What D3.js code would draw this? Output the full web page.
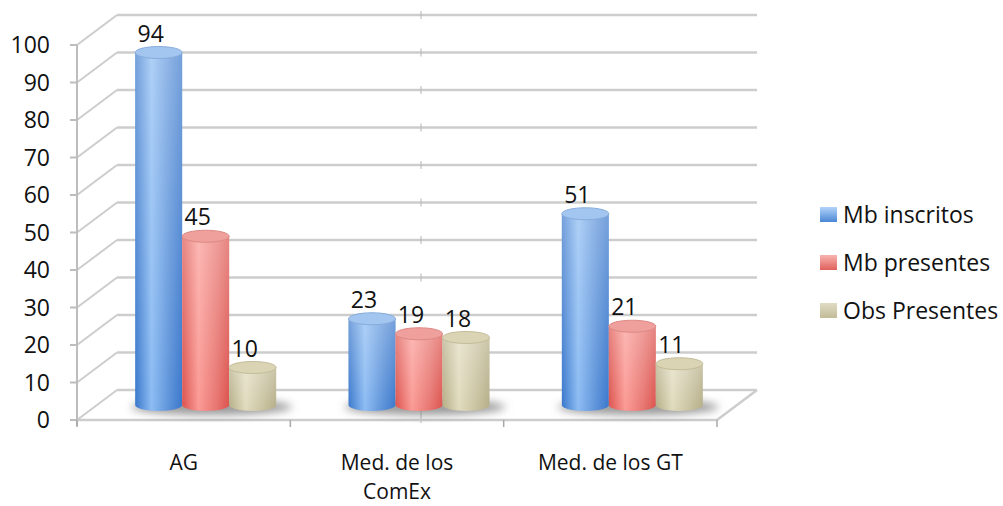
<!DOCTYPE html>
<html>
<head>
<meta charset="utf-8">
<script src="https://cdn.jsdelivr.net/npm/d3@7"></script>
<style>
  body { margin: 0; background: #fff; }
  text { font-family: "Open Sans", sans-serif; fill: #111; }
</style>
</head>
<body>
<svg id="chart" width="1003" height="506"></svg>
<script>
// data
var categories = ["AG", "Med. de los\nComEx", "Med. de los GT"];
var seriesNames = ["Mb inscritos", "Mb presentes", "Obs Presentes"];
var mbInscritos = [94, 23, 51];
var mbPresentes = [45, 19, 21];
var obsPresentes = [10, 18, 11];
var yTicks = [0, 10, 20, 30, 40, 50, 60, 70, 80, 90, 100];

var seriesValues = [mbInscritos, mbPresentes, obsPresentes];

// look of each series (left edge, highlight, right edge, top, top rim)
var looks = [
    { id: "b", edge: "#3a78cc", hi: "#8cbcf3", right: "#5a90d8", top: "#a3c6f0", rim: "#86acdc", l1: "#b3d4fa", l2: "#4a86d4" },
    { id: "r", edge: "#dc524d", hi: "#fb9a95", right: "#e7736e", top: "#f0a09c", rim: "#dc8884", l1: "#f8b4b0", l2: "#e0605b" },
    { id: "t", edge: "#b5ad86", hi: "#e0dbbd", right: "#c7c09d", top: "#dad4b5", rim: "#c3bc98", l1: "#e0dcc4", l2: "#c2bb98" }
];

var svg = d3.select("#chart");
var defs = svg.append("defs");

var depthX = 40, depthY = -30;
var fs = "23px";

var y = d3.scaleLinear().domain([0, 100]).range([420, 45]);
var x0 = d3.scaleBand().domain(categories).range([77, 717]);
var x1 = d3.scaleBand().domain(seriesNames).range([-70.5, 70.5]);

looks.forEach(function (lk) {
    var g = defs.append("linearGradient").attr("id", "body-" + lk.id)
        .attr("x1", 0).attr("x2", 1).attr("y1", 0).attr("y2", 0);
    g.append("stop").attr("offset", "0%").attr("stop-color", lk.edge);
    g.append("stop").attr("offset", "35%").attr("stop-color", lk.hi);
    g.append("stop").attr("offset", "75%").attr("stop-color", lk.right);
    g.append("stop").attr("offset", "100%").attr("stop-color", lk.edge);

    var lg = defs.append("linearGradient").attr("id", "leg-" + lk.id)
        .attr("x1", 0).attr("x2", 0).attr("y1", 0).attr("y2", 1);
    lg.append("stop").attr("offset", "0%").attr("stop-color", lk.l1);
    lg.append("stop").attr("offset", "100%").attr("stop-color", lk.l2);
});

var shade = defs.append("linearGradient").attr("id", "shade")
    .attr("x1", 0).attr("x2", 0).attr("y1", 0).attr("y2", 1);
shade.append("stop").attr("offset", "0%").attr("stop-color", "#fff").attr("stop-opacity", 0.3);
shade.append("stop").attr("offset", "100%").attr("stop-color", "#fff").attr("stop-opacity", 0);

defs.append("filter").attr("id", "blur").attr("x", "-50%").attr("y", "-50%").attr("width", "200%").attr("height", "200%")
    .append("feGaussianBlur").attr("stdDeviation", 4);

var gridColor = "#cdcdcd";

// back wall and side wall grid
var grid = svg.append("g");
grid.selectAll(".back").data(yTicks).enter().append("line")
    .attr("x1", 77 + depthX).attr("x2", 717 + depthX)
    .attr("y1", function (d) { return y(d) + depthY; })
    .attr("y2", function (d) { return y(d) + depthY; })
    .attr("stroke", gridColor).attr("stroke-width", 2.5);

grid.selectAll(".side").data(yTicks).enter().append("line")
    .attr("x1", 77).attr("x2", 77 + depthX)
    .attr("y1", function (d) { return y(d); })
    .attr("y2", function (d) { return y(d) + depthY; })
    .attr("stroke", gridColor).attr("stroke-width", 2);

// small marks across the back grid
grid.selectAll(".mark").data(yTicks).enter().append("line")
    .attr("x1", 421).attr("x2", 421)
    .attr("y1", function (d) { return y(d) + depthY - 4; })
    .attr("y2", function (d) { return y(d) + depthY + 4; })
    .attr("stroke", "#b5b5b5").attr("stroke-width", 1);
grid.append("line").attr("x1", 421).attr("x2", 421)
    .attr("y1", y(0) + depthY).attr("y2", y(0) + 3)
    .attr("stroke", "#b5b5b5").attr("stroke-width", 1);

// floor
grid.append("path")
    .attr("d", "M" + 77 + "," + y(0) + "L" + 717 + "," + y(0) + "L" + (717 + depthX) + "," + (y(0) + depthY))
    .attr("fill", "none").attr("stroke", gridColor).attr("stroke-width", 2.5);

// front value axis
var axisG = svg.append("g");
axisG.append("line").attr("x1", 77).attr("x2", 77).attr("y1", y(100)).attr("y2", y(0) + 6)
    .attr("stroke", "#bdbdbd").attr("stroke-width", 2);
axisG.selectAll(".tk").data(yTicks).enter().append("line")
    .attr("x1", 70).attr("x2", 77)
    .attr("y1", function (d) { return y(d); }).attr("y2", function (d) { return y(d); })
    .attr("stroke", "#bdbdbd").attr("stroke-width", 2);
axisG.selectAll(".lbl").data(yTicks).enter().append("text")
    .attr("x", 50).attr("y", function (d) { return y(d); })
    .attr("dy", "0.36em").attr("text-anchor", "end")
    .style("font-size", fs)
    .text(function (d) { return d; });

// category ticks and labels
var catTicks = categories.map(function (c) { return x0(c); }).concat([717]);
axisG.selectAll(".ct").data(catTicks).enter().append("line")
    .attr("x1", function (d) { return d; }).attr("x2", function (d) { return d; })
    .attr("y1", y(0)).attr("y2", y(0) + 7)
    .attr("stroke", "#a8a8a8").attr("stroke-width", 1.5);

var catLabel = axisG.selectAll(".cl").data(categories).enter().append("text")
    .attr("text-anchor", "middle")
    .style("font-size", "21px")
    .attr("transform", function (d) { return "translate(" + (x0(d) + x0.bandwidth() / 2) + ",470)"; });
catLabel.selectAll("tspan").data(function (d) { return d.split("\n"); }).enter().append("tspan")
    .attr("x", 0).attr("y", function (d, i) { return i * 29; })
    .text(function (d) { return d; });

// bars
var midX = 22, midY = depthY / 2;
var barW = x1.bandwidth(), rx = barW / 2, ry = 6;

var shadows = svg.append("g").attr("filter", "url(#blur)");
categories.forEach(function (c) {
    var cx = x0(c) + x0.bandwidth() / 2 + midX;
    shadows.append("ellipse")
        .attr("cx", cx + 6).attr("cy", y(0) + midY + 2)
        .attr("rx", 1.5 * barW + 10).attr("ry", 8)
        .attr("fill", "#7a7a7a").attr("opacity", 0.75);
});

var bars = svg.append("g");
seriesNames.forEach(function (s, si) {
    var lk = looks[si];
    categories.forEach(function (c, ci) {
        var v = seriesValues[si][ci];
        var cx = x0(c) + x0.bandwidth() / 2 + midX + x1(s) + barW / 2;
        var top = y(v) + midY, bot = y(0) + midY;
        var l = cx - rx, r = cx + rx;
        var body = "M" + l + "," + top + "L" + l + "," + bot +
            "A" + rx + "," + ry + " 0 0 0 " + r + "," + bot + "L" + r + "," + top + "Z";
        bars.append("path").attr("d", body).attr("fill", "url(#body-" + lk.id + ")");
        bars.append("path").attr("d", body).attr("fill", "url(#shade)");
        bars.append("ellipse").attr("cx", cx).attr("cy", top).attr("rx", rx).attr("ry", ry)
            .attr("fill", lk.top).attr("stroke", lk.rim).attr("stroke-width", 1);
        bars.append("text")
            .attr("x", cx - 8).attr("y", top - 11)
            .attr("text-anchor", "middle")
            .style("font-size", fs)
            .text(v);
    });
});

// legend
var legend = svg.append("g").selectAll("g").data(seriesNames).enter().append("g")
    .attr("transform", function (d, i) { return "translate(820," + (215 + i * 48) + ")"; });
legend.append("rect").attr("x", 0).attr("y", -8).attr("width", 17).attr("height", 15)
    .attr("fill", function (d, i) { return "url(#leg-" + looks[i].id + ")"; });
legend.append("text").attr("x", 23).attr("y", 0).attr("dy", "0.36em")
    .style("font-size", fs)
    .text(function (d) { return d; });
</script>
</body>
</html>
